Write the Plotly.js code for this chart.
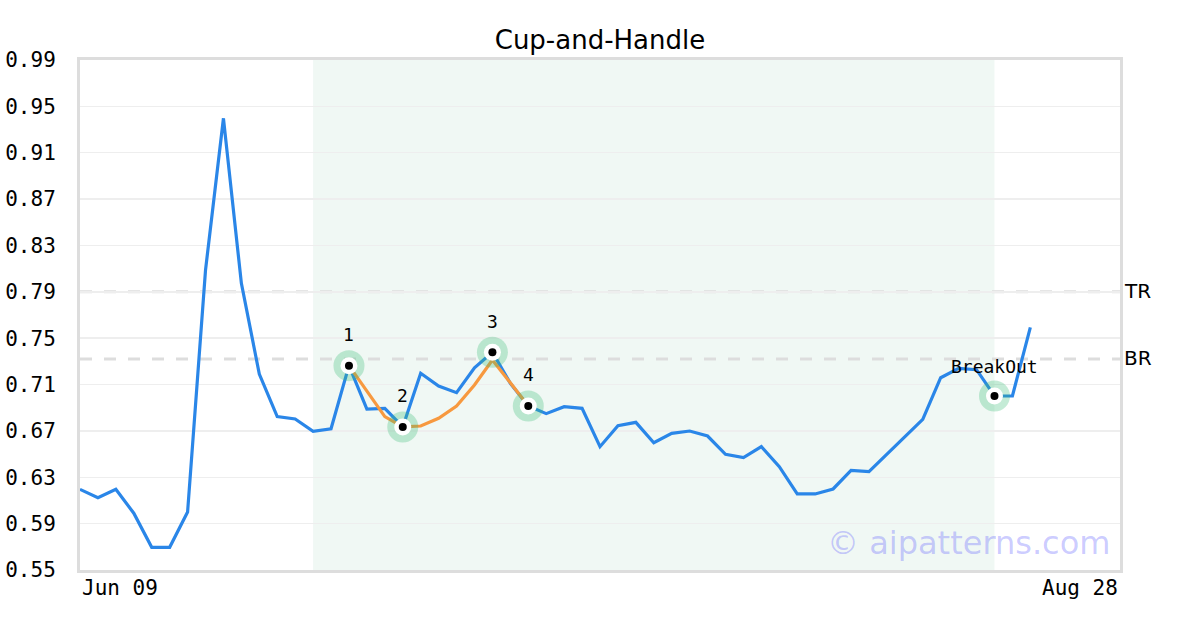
<!DOCTYPE html>
<html>
<head>
<meta charset="utf-8">
<script src="https://cdn.plot.ly/plotly-3.0.1.min.js"></script>
<style>html,body{margin:0;padding:0;background:#fff;}#chart{width:1200px;height:630px;}</style>
</head>
<body>
<div id="chart"></div>
<script>
// Price series (one value per trading day slot, index 0 = Jun 09)
const prices = [0.6196, 0.6124, 0.6196, 0.5990, 0.5696, 0.5696, 0.6000, 0.8088, 0.9397, 0.7973,
  0.7191, 0.6823, 0.6803, 0.6697, 0.6719, 0.7263, 0.6889, 0.6895, 0.6734, 0.7197,
  0.7087, 0.7030, 0.7245, 0.7378, 0.7111, 0.6915, 0.6849, 0.6909, 0.6895, 0.6564,
  0.6745, 0.6774, 0.6598, 0.6679, 0.6699, 0.6656, 0.6498, 0.6469, 0.6564, 0.6391,
  0.6156, 0.6156, 0.6199, 0.6360, 0.6348, 0.6496, 0.6650, 0.6800, 0.7159, 0.7240,
  0.7228, 0.7001, 0.7001, 0.7594];
const totalSlots = 59; // Jun 09 .. Aug 28 weekdays
// Fitted pattern curve (orange), indices 15..25
const fitStart = 15;
const fitValues = [0.7263, 0.7044, 0.6823, 0.6734, 0.6742, 0.6809, 0.6915, 0.7096, 0.7312, 0.7116, 0.6915];
// Pattern pivot points
const pivotIdx = [15, 18, 23, 25];
const pivotLabels = ["1", "2", "3", "4"];
const breakoutIdx = 51;
const breakoutLabel = "BreakOut";
// Pattern window
const zoneStart = 13, zoneEnd = 51;
// Levels
const levelNames = ["TR", "BR"];
const levelValues = [0.790, 0.732];
// Axis labels
const tickLabels = ["Jun 09", "Aug 28"];
const yTicks = [0.55, 0.59, 0.63, 0.67, 0.71, 0.75, 0.79, 0.83, 0.87, 0.91, 0.95, 0.99];

const xs = prices.map((_, i) => i);
const fitX = fitValues.map((_, i) => fitStart + i);
const markX = pivotIdx.concat([breakoutIdx]);
const markY = markX.map(i => prices[i]);

const mono = "DejaVu Sans Mono, monospace";
const sans = "DejaVu Sans, sans-serif";

const traces = [
  {x: xs, y: prices, type: "scatter", mode: "lines", line: {color: "#2a86e8", width: 3.2}, hoverinfo: "skip"},
  {x: fitX, y: fitValues, type: "scatter", mode: "lines", line: {color: "#f7993f", width: 3.2}, hoverinfo: "skip"},
  {x: markX, y: markY, type: "scatter", mode: "markers", marker: {size: 31, color: "rgba(60,190,120,0.3)"}, hoverinfo: "skip", cliponaxis: false},
  {x: markX, y: markY, type: "scatter", mode: "markers", marker: {size: 17, color: "#ffffff"}, hoverinfo: "skip", cliponaxis: false},
  {x: markX, y: markY, type: "scatter", mode: "markers", marker: {size: 8, color: "#000000"}, hoverinfo: "skip", cliponaxis: false}
];

const annotations = [];
pivotIdx.forEach((idx, k) => {
  annotations.push({x: idx, y: prices[idx], xref: "x", yref: "y", text: pivotLabels[k], showarrow: false,
    yshift: 31, font: {family: mono, size: 18, color: "#000"}});
});
annotations.push({x: breakoutIdx, y: prices[breakoutIdx], xref: "x", yref: "y", text: breakoutLabel, showarrow: false,
  yshift: 30, font: {family: mono, size: 18, color: "#000"}});
levelNames.forEach((n, k) => {
  annotations.push({x: 1, y: levelValues[k], xref: "paper", yref: "y", text: n, showarrow: false,
    xanchor: "left", xshift: 2, yshift: 1, font: {family: sans, size: 20, color: "#000"}});
});
annotations.push({x: 0, y: 0, xref: "paper", yref: "paper", text: tickLabels[0], showarrow: false,
  xanchor: "left", yanchor: "top", yshift: -4, font: {family: mono, size: 21, color: "#000"}});
annotations.push({x: 1, y: 0, xref: "paper", yref: "paper", text: tickLabels[1], showarrow: false,
  xanchor: "right", yanchor: "top", yshift: -4, font: {family: mono, size: 21, color: "#000"}});
annotations.push({x: 1, y: 0, xref: "paper", yref: "paper", text: "© aipatterns.com", showarrow: false,
  xanchor: "right", yanchor: "bottom", xshift: -8, yshift: 6, font: {family: sans, size: 32, color: "rgba(80,80,255,0.3)"}});

const shapes = [
  {type: "rect", xref: "x", yref: "paper", x0: zoneStart, x1: zoneEnd, y0: 0, y1: 1,
    fillcolor: "rgba(60,170,120,0.08)", line: {width: 0}, layer: "below"}
];
levelValues.forEach(v => {
  shapes.push({type: "line", xref: "paper", yref: "y", x0: 0, x1: 1, y0: v, y1: v,
    line: {color: "#dddddd", width: 3, dash: "12px,12px"}, layer: "between"});
});

const layout = {
  width: 1200, height: 630,
  margin: {l: 80, r: 80, t: 60, b: 60},
  paper_bgcolor: "#fff", plot_bgcolor: "#fff",
  showlegend: false,
  title: {text: "Cup-and-Handle", x: 0.5, xanchor: "center", y: 1 - 40 / 630, yanchor: "middle", yref: "container",
    font: {family: sans, size: 26, color: "#000"}},
  xaxis: {range: [0, totalSlots - 1], showgrid: false, zeroline: false, showticklabels: false, ticks: "",
    showline: true, mirror: true, linecolor: "#dddddd", linewidth: 3, fixedrange: true},
  yaxis: {range: [0.55, 0.99], tickvals: yTicks, ticktext: yTicks.map(v => v.toFixed(2)), showgrid: true, gridcolor: "#eeeeee", gridwidth: 1.5,
    zeroline: false, ticks: "", ticklabelstandoff: 17, showline: true, mirror: true, linecolor: "#dddddd", linewidth: 3,
    tickfont: {family: mono, size: 21, color: "#000"}, fixedrange: true},
  shapes: shapes,
  annotations: annotations
};

Plotly.newPlot("chart", traces, layout, {displayModeBar: false, staticPlot: true});
</script>
</body>
</html>
